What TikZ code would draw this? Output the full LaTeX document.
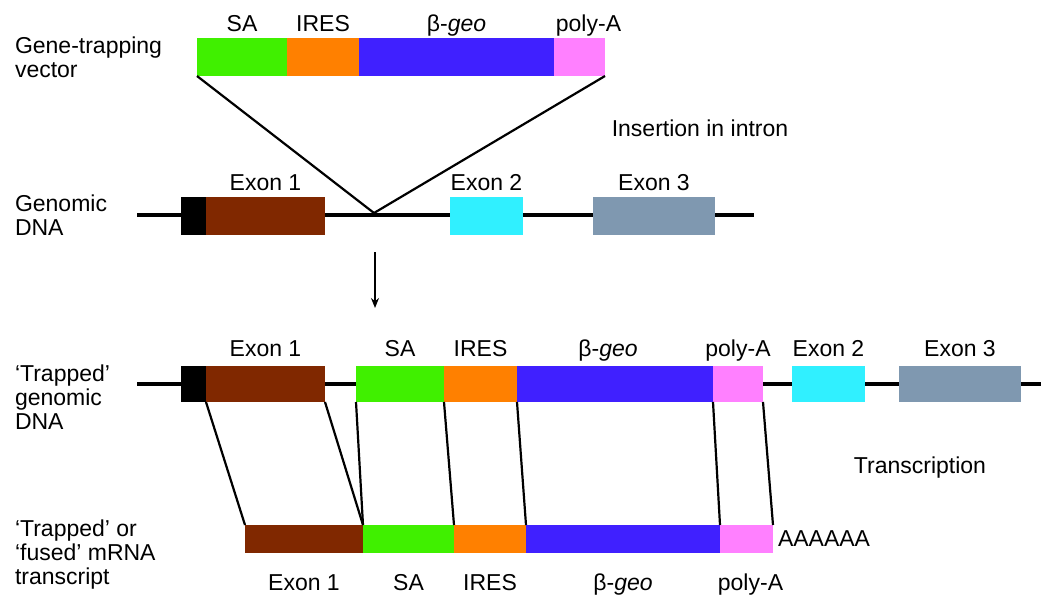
\documentclass[tikz,border=0pt]{standalone}
\usepackage{fontspec}
\setmainfont{Liberation Sans}
\usetikzlibrary{arrows.meta,positioning}
\definecolor{sagreen}{RGB}{64,240,0}
\definecolor{iresorange}{RGB}{255,128,0}
\definecolor{geoblue}{RGB}{64,32,255}
\definecolor{polypink}{RGB}{255,128,255}
\definecolor{exonbrown}{RGB}{128,40,0}
\definecolor{exoncyan}{RGB}{48,240,255}
\definecolor{exongrey}{RGB}{127,152,176}

\begin{document}
\begin{tikzpicture}[x=1pt, y=-1pt,
    every node/.style={font=\fontsize{23}{24}\selectfont, inner sep=0pt, outer sep=0pt},
    seg/.style={rectangle, anchor=north west, minimum height=38pt},
    tag/.style={text height=16pt, text depth=5pt},
    side/.style={anchor=west, align=left},
    dna/.style={line width=4pt},
    link/.style={line width=2.2pt},
]
\useasboundingbox (0,0) rectangle (1041,597);

\node[side] (lblVec) at (15,57) {Gene-trapping\\vector};
\node[seg, fill=sagreen, minimum width=90pt] (vSA) at (197,38) {};
\node[seg, fill=iresorange, minimum width=72pt, right=0pt of vSA] (vIRES) {};
\node[seg, fill=geoblue, minimum width=195pt, right=0pt of vIRES] (vGeo) {};
\node[seg, fill=polypink, minimum width=51pt, right=0pt of vGeo] (vPA) {};
\node[tag, above=2pt of vSA] {SA};
\node[tag, above=2pt of vIRES] {IRES};
\node[tag, above=2pt of vGeo] {β-\textit{geo}};
\node[tag, above=2pt of vPA, xshift=9pt] {poly-A};

\node (lblIns) at (700,128) {Insertion in intron};

\node[side] (lblGen) at (15,215) {Genomic\\DNA};
\coordinate (gL) at (137,215);
\coordinate (gR) at (754,215);
\draw[dna] (gL) -- (gR);
\node[seg, fill=black, minimum width=25pt] (gLead) at (181,197) {};
\node[seg, fill=exonbrown, minimum width=119pt, right=0pt of gLead] (gEx1) {};
\node[seg, fill=exoncyan, minimum width=73pt] (gEx2) at (450,197) {};
\node[seg, fill=exongrey, minimum width=122pt] (gEx3) at (593,197) {};
\node[tag, above=2pt of gEx1] {Exon 1};
\node[tag, above=2pt of gEx2] {Exon 2};
\node[tag, above=2pt of gEx3] {Exon 3};
\coordinate (ins) at (374,213);
\draw[link] (vSA.south west) -- (ins) -- (vPA.south east);

\coordinate (arrS) at (375,252);
\coordinate (arrE) at (375,308);
\draw[line width=1.8pt, -{Stealth[length=10pt, width=8pt]}] (arrS) -- (arrE);

\node[side] (lblTrap) at (15,397) {`Trapped'\\genomic\\DNA};
\coordinate (tL) at (137,384);
\coordinate (tR) at (1041,384);
\draw[dna] (tL) -- (tR);
\node[seg, fill=black, minimum width=25pt, minimum height=36pt] (tLead) at (181,366) {};
\node[seg, fill=exonbrown, minimum width=119pt, minimum height=36pt, right=0pt of tLead] (tEx1) {};
\node[seg, fill=sagreen, minimum width=88pt, minimum height=36pt] (tSA) at (356,366) {};
\node[seg, fill=iresorange, minimum width=73pt, minimum height=36pt, right=0pt of tSA] (tIRES) {};
\node[seg, fill=geoblue, minimum width=196pt, minimum height=36pt, right=0pt of tIRES] (tGeo) {};
\node[seg, fill=polypink, minimum width=50pt, minimum height=36pt, right=0pt of tGeo] (tPA) {};
\node[seg, fill=exoncyan, minimum width=73pt, minimum height=36pt] (tEx2) at (792,366) {};
\node[seg, fill=exongrey, minimum width=122pt, minimum height=36pt] (tEx3) at (899,366) {};
\node[tag, above=5pt of tEx1] {Exon 1};
\node[tag, above=5pt of tSA] {SA};
\node[tag, above=5pt of tIRES] {IRES};
\node[tag, above=5pt of tGeo, xshift=-7pt] {β-\textit{geo}};
\node[tag, above=5pt of tPA] {poly-A};
\node[tag, above=5pt of tEx2] {Exon 2};
\node[tag, above=5pt of tEx3] {Exon 3};

\node (lblTx) at (920,468) {Transcription};

\node[side] (lblRNA) at (15,555) {`Trapped' or\\`fused' mRNA\\transcript};
\node[seg, fill=exonbrown, minimum width=118pt, minimum height=28pt] (mEx1) at (245,525) {};
\node[seg, fill=sagreen, minimum width=91pt, minimum height=28pt, right=0pt of mEx1] (mSA) {};
\node[seg, fill=iresorange, minimum width=72pt, minimum height=28pt, right=0pt of mSA] (mIRES) {};
\node[seg, fill=geoblue, minimum width=194pt, minimum height=28pt, right=0pt of mIRES] (mGeo) {};
\node[seg, fill=polypink, minimum width=53pt, minimum height=28pt, right=0pt of mGeo] (mPA) {};
\node[right=5pt of mPA] (polyTail) {AAAAAA};
\node[tag, below=21pt of mEx1] {Exon 1};
\node[tag, below=21pt of mSA] {SA};
\node[tag, below=21pt of mIRES] {IRES};
\node[tag, below=21pt of mGeo] {β-\textit{geo}};
\node[tag, below=21pt of mPA, xshift=4pt] {poly-A};

\draw[link] (tEx1.south west) -- (mEx1.north west);
\draw[link] (tEx1.south east) -- (mEx1.north east);
\draw[link] (tSA.south west) -- (mSA.north west);
\draw[link] (tIRES.south west) -- (mIRES.north west);
\draw[link] (tGeo.south west) -- (mGeo.north west);
\draw[link] (tPA.south west) -- (mPA.north west);
\draw[link] (tPA.south east) -- (mPA.north east);
\end{tikzpicture}
\end{document}
